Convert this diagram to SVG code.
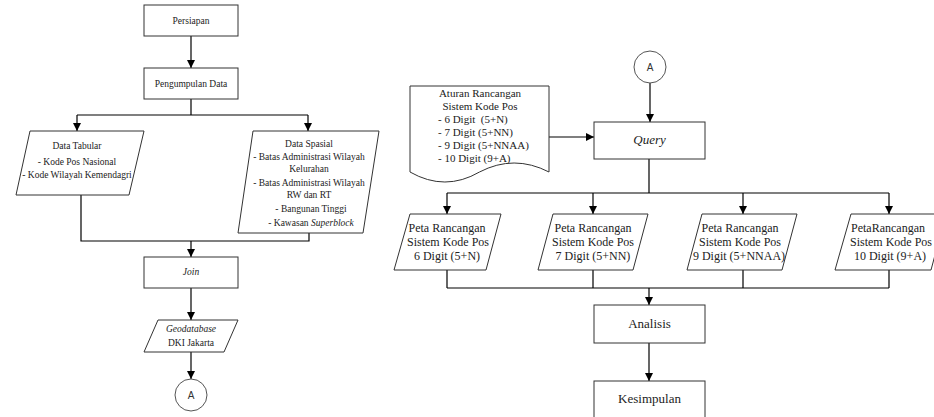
<svg xmlns="http://www.w3.org/2000/svg" width="934" height="417" viewBox="0 0 934 417">
<defs>
<marker id="arr" markerUnits="userSpaceOnUse" markerWidth="9" markerHeight="9" refX="8" refY="4.5" orient="auto">
<path d="M0,0.5 L8,4.5 L0,8.5 z" fill="#000"/>
</marker>
<style>
.box{fill:#fff;stroke:#333;stroke-width:1}
.ln{fill:none;stroke:#000;stroke-width:1.2}
.ar{fill:none;stroke:#000;stroke-width:1.2;marker-end:url(#arr)}
text{font-family:"Liberation Serif","Times New Roman",serif;fill:#222}
.s{font-size:9.5px;text-anchor:middle}
.m{font-size:12px;text-anchor:middle}
.d{font-size:11px}
.l{font-size:13px;text-anchor:middle}
.sans{font-family:"Liberation Sans",Arial,sans-serif;font-size:10px;text-anchor:middle;fill:#333}
.it{font-style:italic}
</style>
</defs>
<rect width="934" height="417" fill="#fff"/>

<g id="connectors">
<path class="ar" d="M191,36 V68"/>
<path class="ln" d="M191,99 V115 M77,115 H308"/>
<path class="ar" d="M77,115 V131"/>
<path class="ar" d="M308,115 V131"/>
<path class="ln" d="M81,195 V241 H309 V233"/>
<path class="ar" d="M191,241 V257"/>
<path class="ar" d="M191,288 V320"/>
<path class="ar" d="M191,352 V379"/>
<path class="ar" d="M650,83 V122"/>
<path class="ar" d="M549,137 H594"/>
<path class="ln" d="M649,159 V193 M447,193 H889"/>
<path class="ar" d="M447,193 V214"/>
<path class="ar" d="M593,193 V214"/>
<path class="ar" d="M743,193 V214"/>
<path class="ar" d="M889,193 V214"/>
<path class="ln" d="M447,270 V288 M593,270 V288 M743,270 V288 M889,270 V288 M447,288 H889"/>
<path class="ar" d="M649,288 V305"/>
<path class="ar" d="M649,343 V381"/>
</g>

<g id="persiapan">
<rect class="box" x="144" y="5" width="94" height="31"/>
<text class="s" x="191" y="24">Persiapan</text>
</g>
<g id="pengumpulan">
<rect class="box" x="144" y="68" width="94" height="31"/>
<text class="s" x="191" y="87">Pengumpulan Data</text>
</g>
<g id="data-tabular">
<polygon class="box" points="30,131 144,131 129,195 16,195"/>
<text class="s" x="77" y="149">Data Tabular</text>
<text class="s" x="77" y="165">- Kode Pos Nasional</text>
<text class="s" x="77" y="178">- Kode Wilayah Kemendagri</text>
</g>
<g id="data-spasial">
<polygon class="box" points="253,131 379,131 363,233 238,233"/>
<text class="s" x="309" y="147">Data Spasial</text>
<text class="s" x="309" y="160">- Batas Administrasi Wilayah</text>
<text class="s" x="309" y="172">Kelurahan</text>
<text class="s" x="309" y="186">- Batas Administrasi Wilayah</text>
<text class="s" x="309" y="198">RW dan RT</text>
<text class="s" x="311" y="212">- Bangunan Tinggi</text>
<text class="s" x="311" y="226">- Kawasan <tspan class="it">Superblock</tspan></text>
</g>
<g id="join">
<rect class="box" x="144" y="257" width="94" height="31"/>
<text class="s it" x="191" y="275">Join</text>
</g>
<g id="geodatabase">
<polygon class="box" points="158,320 238,320 224,352 144,352"/>
<text class="s it" x="191" y="332">Geodatabase</text>
<text class="s" x="191" y="346">DKI Jakarta</text>
</g>
<g id="connector-a-left">
<circle cx="191" cy="395" r="16" fill="#fff" stroke="#555"/>
<text class="sans" x="191" y="399">A</text>
</g>

<g id="connector-a-right">
<circle cx="650" cy="67" r="16" fill="#fff" stroke="#555"/>
<text class="sans" x="650" y="71">A</text>
</g>
<g id="aturan">
<path class="box" d="M410,86 H549 V172 Q514,154 479.5,172 Q445,192 410,172 Z"/>
<text class="d" x="480" y="97" text-anchor="middle">Aturan Rancangan</text>
<text class="d" x="480" y="110" text-anchor="middle">Sistem Kode Pos</text>
<text class="d" x="438" y="123" xml:space="preserve">- 6 Digit  (5+N)</text>
<text class="d" x="438" y="136">- 7 Digit (5+NN)</text>
<text class="d" x="438" y="149">- 9 Digit (5+NNAA)</text>
<text class="d" x="438" y="162">- 10 Digit (9+A)</text>
</g>
<g id="query">
<rect class="box" x="594" y="122" width="111" height="37"/>
<text class="l it" x="649.5" y="144">Query</text>
</g>
<g id="peta-6">
<polygon class="box" points="410,214 501,214 486,270 394,270"/>
<text class="m" x="447" y="232">Peta Rancangan</text>
<text class="m" x="448" y="246">Sistem Kode Pos</text>
<text class="m" x="447" y="260">6 Digit (5+N)</text>
</g>
<g id="peta-7">
<polygon class="box" points="553,214 648,214 633,270 538,270"/>
<text class="m" x="593" y="232">Peta Rancangan</text>
<text class="m" x="593" y="246">Sistem Kode Pos</text>
<text class="m" x="593" y="260">7 Digit (5+NN)</text>
</g>
<g id="peta-9">
<polygon class="box" points="702,214 797,214 782,270 687,270"/>
<text class="m" x="740" y="232">Peta Rancangan</text>
<text class="m" x="740" y="246">Sistem Kode Pos</text>
<text class="m" x="739" y="260">9 Digit (5+NNAA)</text>
</g>
<g id="peta-10">
<polygon class="box" points="851,214 946,214 931,270 835,270"/>
<text class="m" x="888" y="232">PetaRancangan</text>
<text class="m" x="891" y="246">Sistem Kode Pos</text>
<text class="m" x="890" y="260">10 Digit (9+A)</text>
</g>
<g id="analisis">
<rect class="box" x="594" y="305" width="111" height="38"/>
<text class="l" x="649.5" y="328">Analisis</text>
</g>
<g id="kesimpulan">
<rect class="box" x="594" y="381" width="111" height="40"/>
<text class="l" x="649.5" y="403">Kesimpulan</text>
</g>
</svg>
